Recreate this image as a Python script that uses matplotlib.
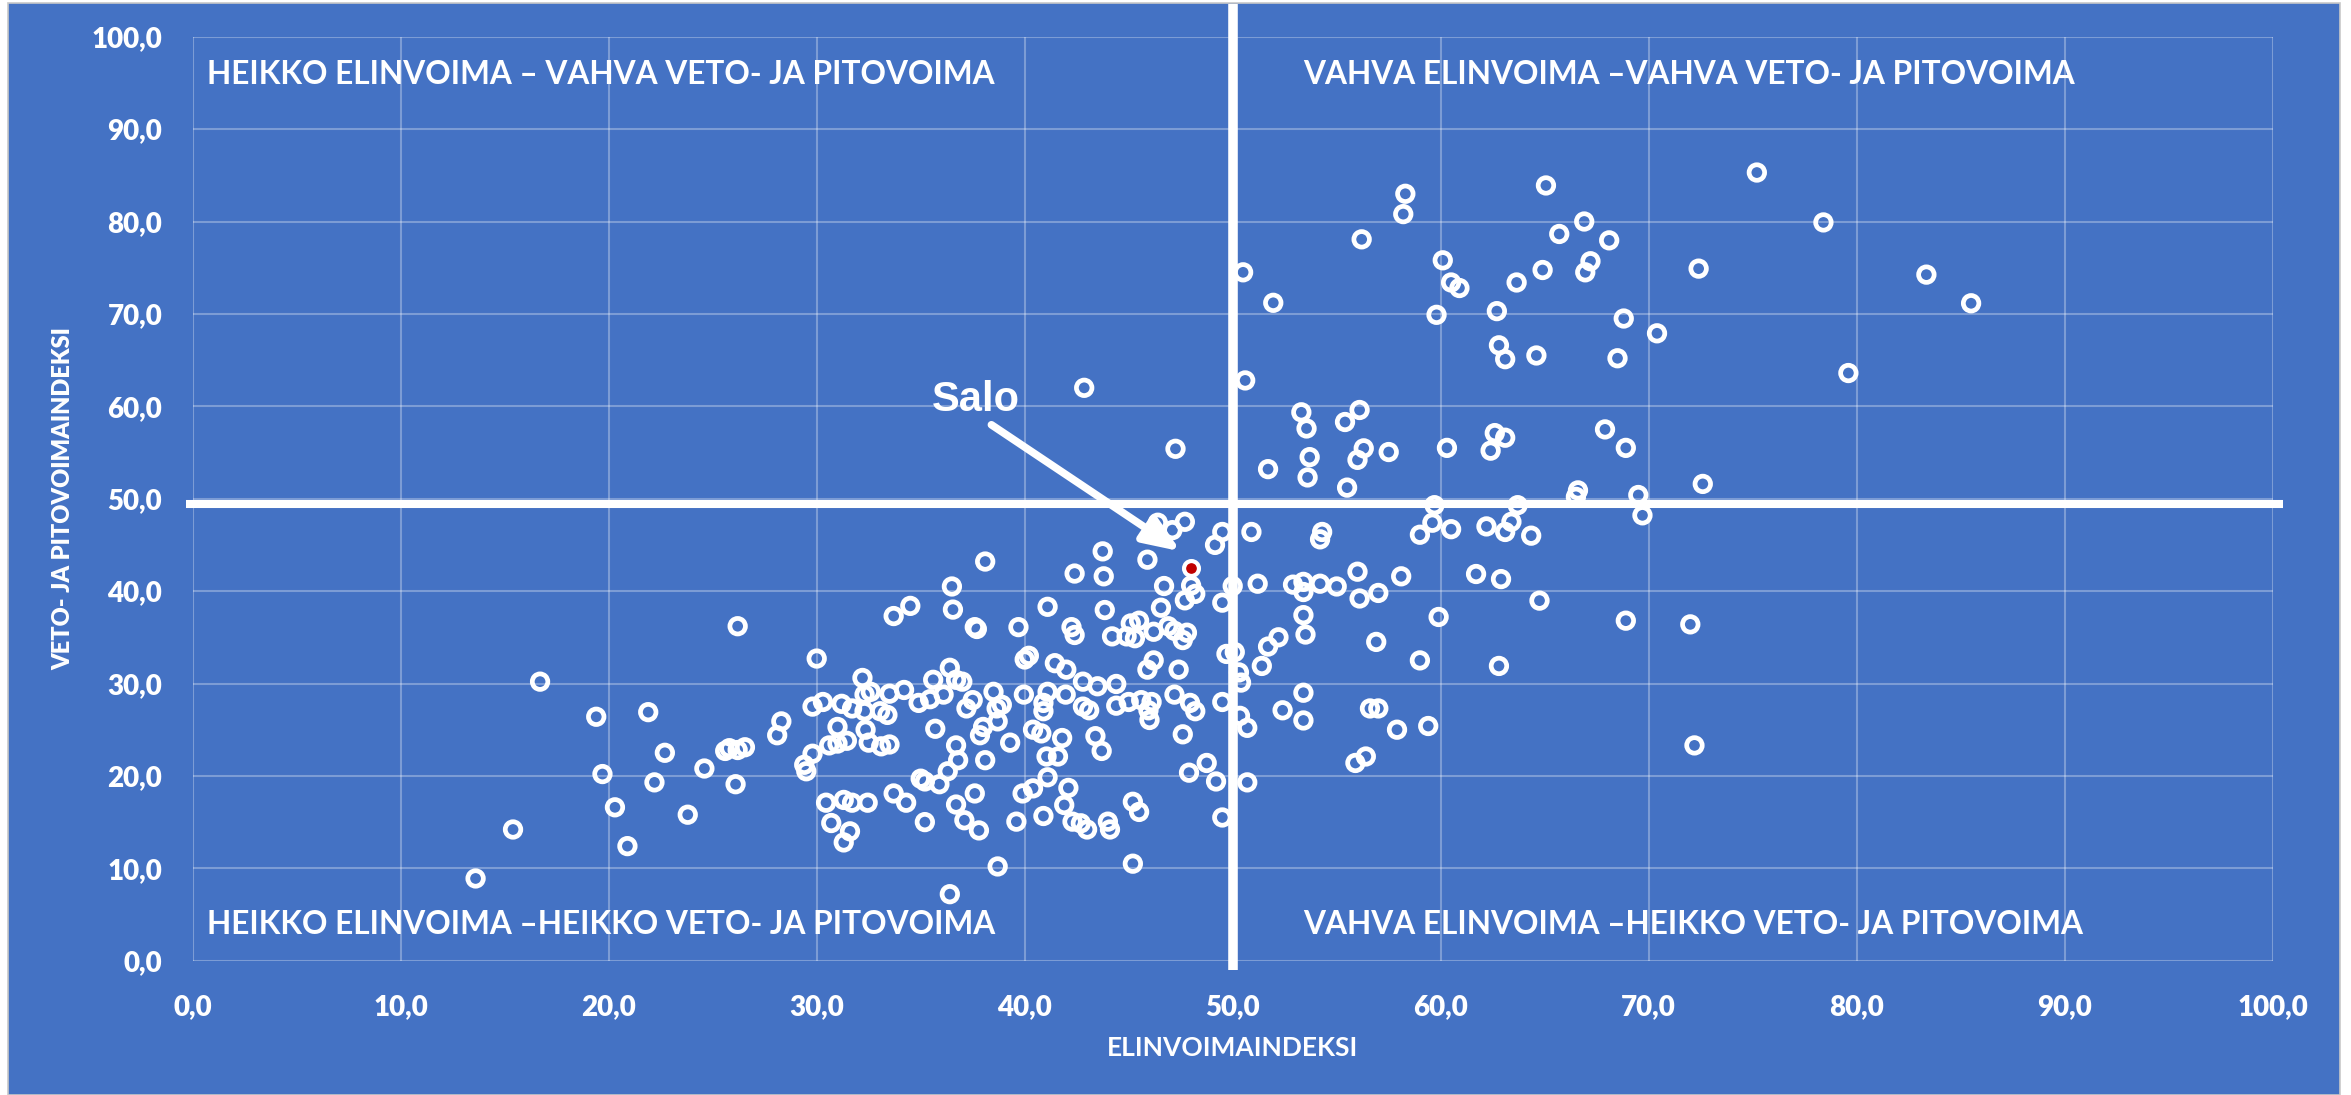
import matplotlib
matplotlib.use("Agg")
import matplotlib.pyplot as plt
from matplotlib.patches import Rectangle

# elinvoimaindeksi (x) ja veto- ja pitovoimaindeksi (y), luettu kuvasta
elinvoima = [
    16.7, 19.4, 21.9, 22.7, 24.6, 19.7, 22.2, 20.3, 23.8, 20.9, 15.4, 13.6,
    38.1, 36.5, 36.55, 34.5, 33.7, 37.7, 37.6, 26.2, 30.0, 32.2, 36.4, 36.7,
    37.0, 35.6, 34.2, 33.5, 32.3, 32.6, 36.1, 35.45, 34.9, 38.5, 37.5, 37.2,
    38.65, 38.9, 38.7, 38.0, 37.85, 29.8, 30.3, 31.2, 31.7, 32.3, 33.05, 33.4,
    28.3, 28.1, 31.0, 31.45, 31.0, 32.35, 32.5, 33.1, 33.5, 30.6, 35.7, 36.7,
    36.8, 36.3, 38.1, 25.8, 26.2, 26.55, 25.6, 26.1, 29.8, 29.4, 29.5, 30.45,
    31.3, 31.7, 32.45, 30.7, 31.6, 31.3, 33.7, 34.3, 35.0, 35.2, 35.9, 36.7,
    37.1, 37.8, 37.6, 35.2, 38.7, 36.4,
    46.4, 47.1, 47.7, 49.5, 49.15, 50.9, 43.75, 45.9, 42.4, 43.8, 46.7, 48.0,
    48.2, 47.7, 50.0, 49.5, 51.2, 41.1, 43.85, 46.55, 39.7, 42.25, 42.4, 45.1,
    45.5, 44.9, 45.3, 44.2, 46.2, 46.9, 47.2, 47.8, 47.6, 49.7, 50.1, 40.0,
    40.2, 41.45, 42.0, 45.9, 46.2, 47.4, 50.3, 50.4, 51.4, 51.7, 52.2, 39.96,
    41.1, 40.9, 40.9, 41.97, 42.8, 43.5, 44.4, 42.8, 43.1, 44.4, 45.0, 45.6,
    46.1, 45.95, 46.0, 47.2, 47.95, 48.2, 49.5, 50.35, 50.7, 52.4, 40.4, 40.8,
    41.8, 39.3, 43.4, 43.7, 41.05, 41.6, 47.6, 41.1, 40.4, 39.9, 42.1, 41.9,
    39.6, 40.9, 42.3, 42.7, 43.0, 44.0, 44.1, 45.2, 45.5, 45.2, 47.9, 48.75,
    49.2, 50.7, 49.5, 52.9, 53.4, 53.4, 53.4, 53.5, 53.4, 53.4,
    54.2, 55.0, 56.0, 56.1, 57.0, 58.1, 54.3, 54.2, 56.9, 59.0, 56.6, 57.0,
    57.9, 59.4, 55.9, 56.4, 59.0, 59.6, 59.7, 60.5, 62.2, 63.1, 63.4, 63.7,
    64.35, 69.7, 61.7, 62.9, 64.75, 59.9, 68.9, 72.0, 62.8, 72.2,
    58.3, 58.2, 56.2, 65.06, 66.9, 65.7, 68.1, 67.2, 66.95, 64.9, 60.1, 60.5,
    60.9, 63.65, 50.5, 51.95, 59.8, 62.7, 68.8, 62.8, 63.1, 64.6, 68.5, 50.6,
    53.3, 53.55, 55.4, 56.1, 62.6, 63.1, 62.4, 67.9, 68.9, 47.25, 51.7, 53.7,
    53.6, 56.3, 56.0, 57.5, 60.3, 55.5, 66.6, 66.5, 69.5,
    75.2, 78.4, 72.4, 83.35, 85.5, 70.4, 79.6, 72.6, 42.86,
]
vetovoima = [
    30.2, 26.4, 26.9, 22.5, 20.8, 20.2, 19.3, 16.6, 15.8, 12.4, 14.2, 8.9,
    43.2, 40.5, 38.0, 38.4, 37.3, 35.9, 36.1, 36.2, 32.7, 30.6, 31.7, 30.4,
    30.2, 30.4, 29.3, 28.9, 28.8, 29.1, 28.8, 28.3, 27.9, 29.1, 28.2, 27.3,
    27.3, 27.7, 25.9, 25.3, 24.4, 27.5, 28.0, 27.8, 27.3, 27.0, 27.0, 26.6,
    25.9, 24.4, 25.3, 23.8, 23.5, 25.0, 23.6, 23.2, 23.4, 23.3, 25.1, 23.3,
    21.7, 20.5, 21.7, 23.0, 22.8, 23.1, 22.7, 19.1, 22.4, 21.2, 20.5, 17.1,
    17.4, 17.1, 17.1, 14.9, 14.0, 12.8, 18.1, 17.1, 19.7, 19.4, 19.1, 16.9,
    15.2, 14.1, 18.1, 15.0, 10.2, 7.2,
    47.4, 46.6, 47.5, 46.4, 45.0, 46.4, 44.3, 43.4, 41.9, 41.6, 40.55, 40.6,
    39.7, 39.0, 40.55, 38.75, 40.8, 38.3, 37.95, 38.2, 36.1, 36.1, 35.25, 36.5,
    36.8, 35.1, 34.9, 35.1, 35.6, 36.2, 35.7, 35.5, 34.7, 33.2, 33.4, 32.6,
    33.0, 32.2, 31.5, 31.5, 32.5, 31.5, 31.2, 30.1, 31.9, 34.0, 35.0, 28.8,
    29.1, 27.9, 27.0, 28.8, 30.2, 29.7, 29.95, 27.5, 27.1, 27.6, 28.0, 28.2,
    28.0, 27.1, 26.05, 28.8, 27.9, 27.0, 28.0, 26.5, 25.2, 27.1, 25.0, 24.6,
    24.1, 23.6, 24.3, 22.7, 22.1, 22.1, 24.5, 19.85, 18.65, 18.1, 18.7, 16.85,
    15.05, 15.66, 15.05, 14.87, 14.2, 15.05, 14.2, 17.2, 16.1, 10.5, 20.35, 21.4,
    19.4, 19.3, 15.5, 40.7, 41.0, 39.9, 37.4, 35.3, 29.0, 26.0,
    40.8, 40.5, 42.1, 39.2, 39.8, 41.6, 46.4, 45.6, 34.5, 32.5, 27.3, 27.3,
    25.0, 25.4, 21.4, 22.1, 46.1, 47.4, 49.3, 46.7, 47.0, 46.4, 47.5, 49.3,
    46.0, 48.2, 41.85, 41.3, 38.97, 37.2, 36.8, 36.4, 31.9, 23.3,
    83.0, 80.8, 78.07, 83.9, 80.0, 78.65, 77.96, 75.7, 74.5, 74.75, 75.8, 73.4,
    72.8, 73.4, 74.5, 71.2, 69.9, 70.3, 69.5, 66.6, 65.1, 65.5, 65.2, 62.8,
    59.35, 57.6, 58.3, 59.6, 57.1, 56.6, 55.2, 57.5, 55.5, 55.4, 53.2, 54.5,
    52.3, 55.45, 54.2, 55.05, 55.5, 51.2, 50.9, 50.2, 50.4,
    85.3, 79.9, 74.9, 74.25, 71.15, 67.9, 63.6, 51.6, 62.0,
]

salo_x = [48.0]
salo_y = [42.5]

# rajat nelikentälle
raja_x = 50.0
raja_y = 49.4

tick_values = list(range(0, 101, 10))
tick_labels = [("%.1f" % v).replace(".", ",") for v in tick_values]

quadrant_texts = [
    (0.7, 95.9, "HEIKKO ELINVOIMA \u2013 VAHVA VETO- JA PITOVOIMA"),
    (53.4, 95.9, "VAHVA ELINVOIMA \u2013VAHVA VETO- JA PITOVOIMA"),
    (0.7, 3.9, "HEIKKO ELINVOIMA \u2013HEIKKO VETO- JA PITOVOIMA"),
    (53.4, 3.9, "VAHVA ELINVOIMA \u2013HEIKKO VETO- JA PITOVOIMA"),
]

BLUE = "#4472C4"
FONT = ["Lato", "DejaVu Sans"]

fig = plt.figure(figsize=(23.51, 10.95), dpi=100)
fig.patch.set_facecolor("white")
tausta = Rectangle((8 / 2351, 0), 2332 / 2351, 1092 / 1095,
                   transform=fig.transFigure, facecolor=BLUE,
                   edgecolor="#c8c8c8", lw=1.2, zorder=-10)
fig.add_artist(tausta)

ax = fig.add_axes([192.7 / 2351, 1 - 960.7 / 1095, 2080 / 2351, 924 / 1095])
ax.set_zorder(1)
ax.set_facecolor("none")
ax.set_xlim(0, 100)
ax.set_ylim(0, 100)
for s in ax.spines.values():
    s.set_visible(False)
ax.grid(True, color="white", alpha=0.3, lw=1.5)
ax.set_axisbelow(True)

ax.set_xticks(tick_values)
ax.set_xticklabels(tick_labels, family=FONT, fontweight="heavy")
ax.set_yticks(tick_values)
ax.set_yticklabels(tick_labels, family=FONT, fontweight="heavy")
ax.tick_params(length=0, colors="white", labelsize=20)
ax.tick_params(axis="x", pad=24)
ax.tick_params(axis="y", pad=22)

ax.set_xlabel("ELINVOIMAINDEKSI", color="white", fontsize=19,
              family=FONT, fontweight="bold")
ax.xaxis.set_label_coords(0.5, -0.0945)
ax.xaxis.label.set_va("center")
ax.set_ylabel("VETO- JA PITOVOIMAINDEKSI", color="white", fontsize=17,
              family=FONT, fontweight="heavy")
ax.yaxis.set_label_coords(-0.0624, 0.5)
ax.yaxis.label.set_va("center")

# nelikentän rajaviivat
ax.plot([raja_x, raja_x], [-1.0, 103.5], color="white", lw=6.9,
        solid_capstyle="butt", clip_on=False, zorder=2)
ax.plot([-0.3, 100.5], [raja_y, raja_y], color="white", lw=5.8,
        solid_capstyle="butt", clip_on=False, zorder=2)

for tx, ty, txt in quadrant_texts:
    ax.text(tx, ty, txt, color="white", fontsize=22.8, family=FONT,
            fontweight="bold", ha="left", va="center", zorder=3)

ax.scatter(elinvoima, vetovoima, s=125, facecolors="none",
           edgecolors="white", linewidths=3.4, zorder=4)
ax.scatter(salo_x, salo_y, s=115, facecolors="#C00000",
           edgecolors="white", linewidths=3.0, zorder=5)

ax.annotate("", xy=(47.5, 44.3), xytext=(38.4, 58.0),
            arrowprops=dict(arrowstyle="-|>,head_length=0.55,head_width=0.22",
                            lw=5.5, color="white", mutation_scale=40,
                            shrinkA=0, shrinkB=0), zorder=6)
ax.text(37.66, 60.7, "Salo", color="white", fontsize=30,
        family=["Liberation Sans", "DejaVu Sans"], fontweight="bold",
        ha="center", va="center", zorder=6)

fig.savefig("out.png", dpi=100, facecolor=fig.get_facecolor())
